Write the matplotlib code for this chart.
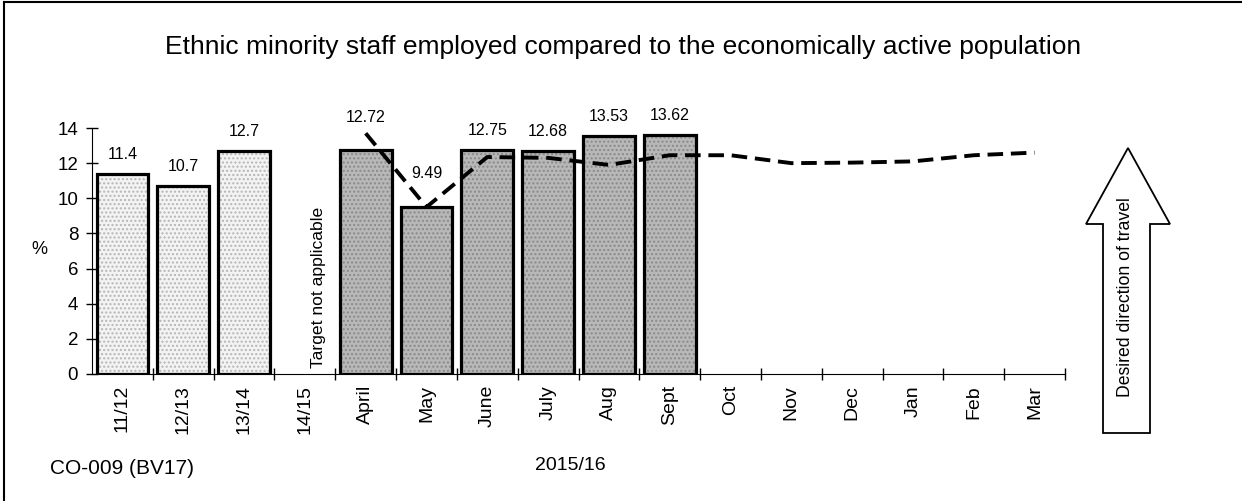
import matplotlib
matplotlib.use('Agg')
import matplotlib.pyplot as plt
import numpy as np
from matplotlib.patches import Polygon
from matplotlib.lines import Line2D

plt.rcParams['font.family'] = ['Liberation Sans', 'DejaVu Sans']

categories = ['11/12', '12/13', '13/14', '14/15', 'April', 'May', 'June', 'July',
              'Aug', 'Sept', 'Oct', 'Nov', 'Dec', 'Jan', 'Feb', 'Mar']
# yearly outturns (14/15 has no figure)
year_vals = [11.4, 10.7, 12.7]
# monthly 2015/16 outturns, April to Sept
month_vals = [12.72, 9.49, 12.75, 12.68, 13.53, 13.62]
# target line, April to Mar
target_vals = [13.7, 9.5, 12.35, 12.3, 11.9, 12.45, 12.45, 12.0, 12.03, 12.1, 12.45, 12.6]

x = np.arange(len(categories))
xy = x[:3]
xm = x[4:4 + len(month_vals)]
xt = x[4:4 + len(target_vals)]

fig = plt.figure(figsize=(12.42, 5.01), dpi=100)
ax = fig.add_axes([0.0741, 0.2535, 0.7834, 0.491])

w = 0.85
# yearly bars, light dotted
ax.bar(xy, year_vals, w, color='#f3f3f3', hatch='....', edgecolor='#b5b5b5', linewidth=0, zorder=2)
ax.bar(xy, year_vals, w, fill=False, edgecolor='black', linewidth=2.3, zorder=3)
# monthly bars, darker
ax.bar(xm, month_vals, w, color='#b8b8b8', hatch='....', edgecolor='#8a8a8a', linewidth=0, zorder=2)
ax.bar(xm, month_vals, w, fill=False, edgecolor='black', linewidth=2.3, zorder=3)

ax.plot(xt, target_vals, color='black', linewidth=2.8, dashes=(4, 2), zorder=4)

# value labels
offs = [14, 14, 14]
for xi, v, o in zip(xy, year_vals, offs):
    ax.annotate('%g' % v, (xi, v), xytext=(0, o), textcoords='offset points',
                ha='center', va='center', fontsize=11.5)
m_offs = [24, 24, 14, 14, 14, 14]
for xi, v, o in zip(xm, month_vals, m_offs):
    ax.annotate('%.2f' % v, (xi, v), xytext=(0, o), textcoords='offset points',
                ha='center', va='center', fontsize=11.5)

ax.text(3.23, 0.35, 'Target not applicable', rotation=90, ha='center', va='bottom', fontsize=12.6)

ax.set_xlim(-0.5, len(categories) - 0.5)
ax.set_ylim(0, 14)
ax.set_yticks(np.arange(0, 15, 2))
ax.set_xticks(x)
ax.set_xticklabels(categories, rotation=90, fontsize=14)
ax.set_xticks(np.arange(0.5, len(categories), 1), minor=True)
ax.tick_params(axis='x', which='major', length=0, pad=8)
ax.tick_params(axis='x', which='minor', length=8, direction='inout', width=1)
ax.tick_params(axis='y', labelsize=13.5, length=8, direction='inout', width=1, pad=6)
ax.spines['top'].set_visible(False)
ax.spines['right'].set_visible(False)
ax.spines['left'].set_linewidth(0.8)
ax.spines['bottom'].set_linewidth(0.8)

W, H = 1242.0, 501.0
fig.text(39 / W, 1 - 250 / H, '%', ha='center', va='center', fontsize=13)
fig.text(623 / W, 1 - 47 / H, 'Ethnic minority staff employed compared to the economically active population',
         ha='center', va='center', fontsize=19)
fig.text(50 / W, 1 - 468 / H, 'CO-009 (BV17)', ha='left', va='center', fontsize=15)
fig.text(570 / W, 1 - 466 / H, '2015/16', ha='center', va='center', fontsize=14)

# hollow arrow "desired direction of travel"
pts = [(1128, 148), (1170, 224), (1150, 224), (1150, 433), (1103, 433), (1103, 224), (1086, 224)]
arrow = Polygon([(px / W, 1 - py / H) for px, py in pts], closed=True, fill=False,
                edgecolor='black', linewidth=1.3, transform=fig.transFigure)
fig.add_artist(arrow)
fig.text(1126 / W, 1 - 297 / H, 'Desired direction of travel', rotation=90, ha='center', va='center', fontsize=12.7)

# page frame
fig.add_artist(Line2D([4 / W, 4 / W], [0, 1 - 2 / H], color='black', linewidth=1.5))
fig.add_artist(Line2D([4 / W, 1], [1 - 2 / H, 1 - 2 / H], color='black', linewidth=1.5))

fig.savefig('out.png', dpi=100)
